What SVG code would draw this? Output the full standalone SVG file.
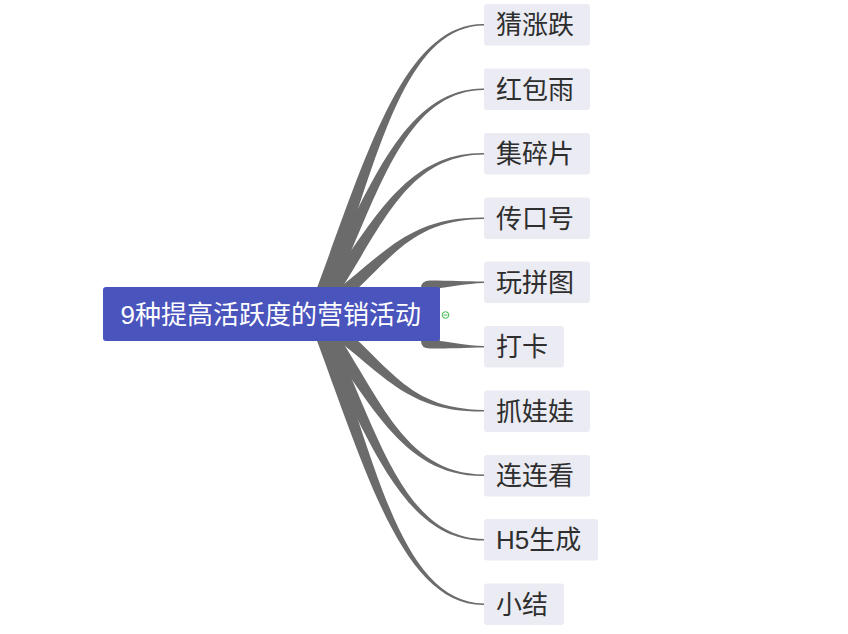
<svg xmlns="http://www.w3.org/2000/svg" width="848" height="634" viewBox="0 0 848 634">
<style>
.br{fill:#6b6b6b;stroke:none}
.nd{fill:#ebebf3}
.nt{font-family:"Liberation Sans","Noto Sans CJK SC",sans-serif;font-size:26px;fill:#2e2e2e}
.rt{font-family:"Liberation Sans","Noto Sans CJK SC",sans-serif;font-size:26px;fill:#ffffff}
</style>
<rect width="848" height="634" fill="#ffffff"/>
<g id="connectors">
<path class="br" d="M307.97,311.88 C363.38,167.53 400,23.15 484,23.95 L484,25.55 C400,26.35 374.62,171.73 322.03,317.12 Z"/>
<path class="br" d="M308.28,311.16 C365.63,199.2 400,87.65 484,88.45 L484,90.05 C400,90.85 376.37,204.55 321.72,317.84 Z"/>
<path class="br" d="M308.99,310.01 C370.19,230.54 400,152.15 484,152.95 L484,154.55 C400,155.35 379.81,237.72 321.01,318.99 Z"/>
<path class="br" d="M310.75,308.32 C381.6,261.44 400,216.65 484,217.45 L484,219.05 C400,219.85 388.4,271.32 319.25,320.68 Z"/>
<path class="br" d="M421,314 L421,288 Q421,280.5 430,280.5 C450,280.5 465,281.4 484,281.6 L484,282.9 C465,283.6 452,286.5 440,288 L435,314 Z"/>
<path class="br" d="M421,315 L421,341 Q421,348.5 430,348.5 C450,348.5 465,347.6 484,347.4 L484,346.1 C465,345.4 452,342.5 440,341 L435,315 Z"/>
<path class="br" d="M310.75,320.68 C381.6,367.56 400,412.35 484,411.55 L484,409.95 C400,409.15 388.4,357.68 319.25,308.32 Z"/>
<path class="br" d="M308.99,318.99 C370.19,398.46 400,476.85 484,476.05 L484,474.45 C400,473.65 379.81,391.28 321.01,310.01 Z"/>
<path class="br" d="M308.28,317.84 C365.63,429.8 400,541.35 484,540.55 L484,538.95 C400,538.15 376.37,424.45 321.72,311.16 Z"/>
<path class="br" d="M307.97,317.12 C363.38,461.47 400,605.85 484,605.05 L484,603.45 C400,602.65 374.62,457.27 322.03,311.88 Z"/>
</g>
<g id="root">
<rect x="103" y="287" width="337" height="54" rx="3" fill="#4a54bd"/>
<text class="rt" x="120.5" y="323.5">9种提高活跃度的营销活动</text>
</g>
<g id="collapse">
<circle cx="445.5" cy="315" r="3.3" fill="#ffffff" stroke="#3cba4c" stroke-width="1"/>
<line x1="443.6" y1="315" x2="447.4" y2="315" stroke="#3cba4c" stroke-width="1"/>
</g>
<g id="n1"><rect class="nd" x="484" y="4" width="106" height="41.5" rx="3"/><text class="nt" x="496" y="34">猜涨跌</text></g>
<g id="n2"><rect class="nd" x="484" y="68.5" width="106" height="41.5" rx="3"/><text class="nt" x="496" y="98.5">红包雨</text></g>
<g id="n3"><rect class="nd" x="484" y="133" width="106" height="41.5" rx="3"/><text class="nt" x="496" y="163">集碎片</text></g>
<g id="n4"><rect class="nd" x="484" y="197.5" width="106" height="41.5" rx="3"/><text class="nt" x="496" y="227.5">传口号</text></g>
<g id="n5"><rect class="nd" x="484" y="261.5" width="106" height="41.5" rx="3"/><text class="nt" x="496" y="291.5">玩拼图</text></g>
<g id="n6"><rect class="nd" x="484" y="326" width="80" height="41.5" rx="3"/><text class="nt" x="496" y="356">打卡</text></g>
<g id="n7"><rect class="nd" x="484" y="390.5" width="106" height="41.5" rx="3"/><text class="nt" x="496" y="420.5">抓娃娃</text></g>
<g id="n8"><rect class="nd" x="484" y="455" width="106" height="41.5" rx="3"/><text class="nt" x="496" y="485">连连看</text></g>
<g id="n9"><rect class="nd" x="484" y="519" width="114" height="41.5" rx="3"/><text class="nt" x="496" y="549">H5生成</text></g>
<g id="n10"><rect class="nd" x="484" y="583.5" width="80" height="41.5" rx="3"/><text class="nt" x="496" y="613.5">小结</text></g>
</svg>
